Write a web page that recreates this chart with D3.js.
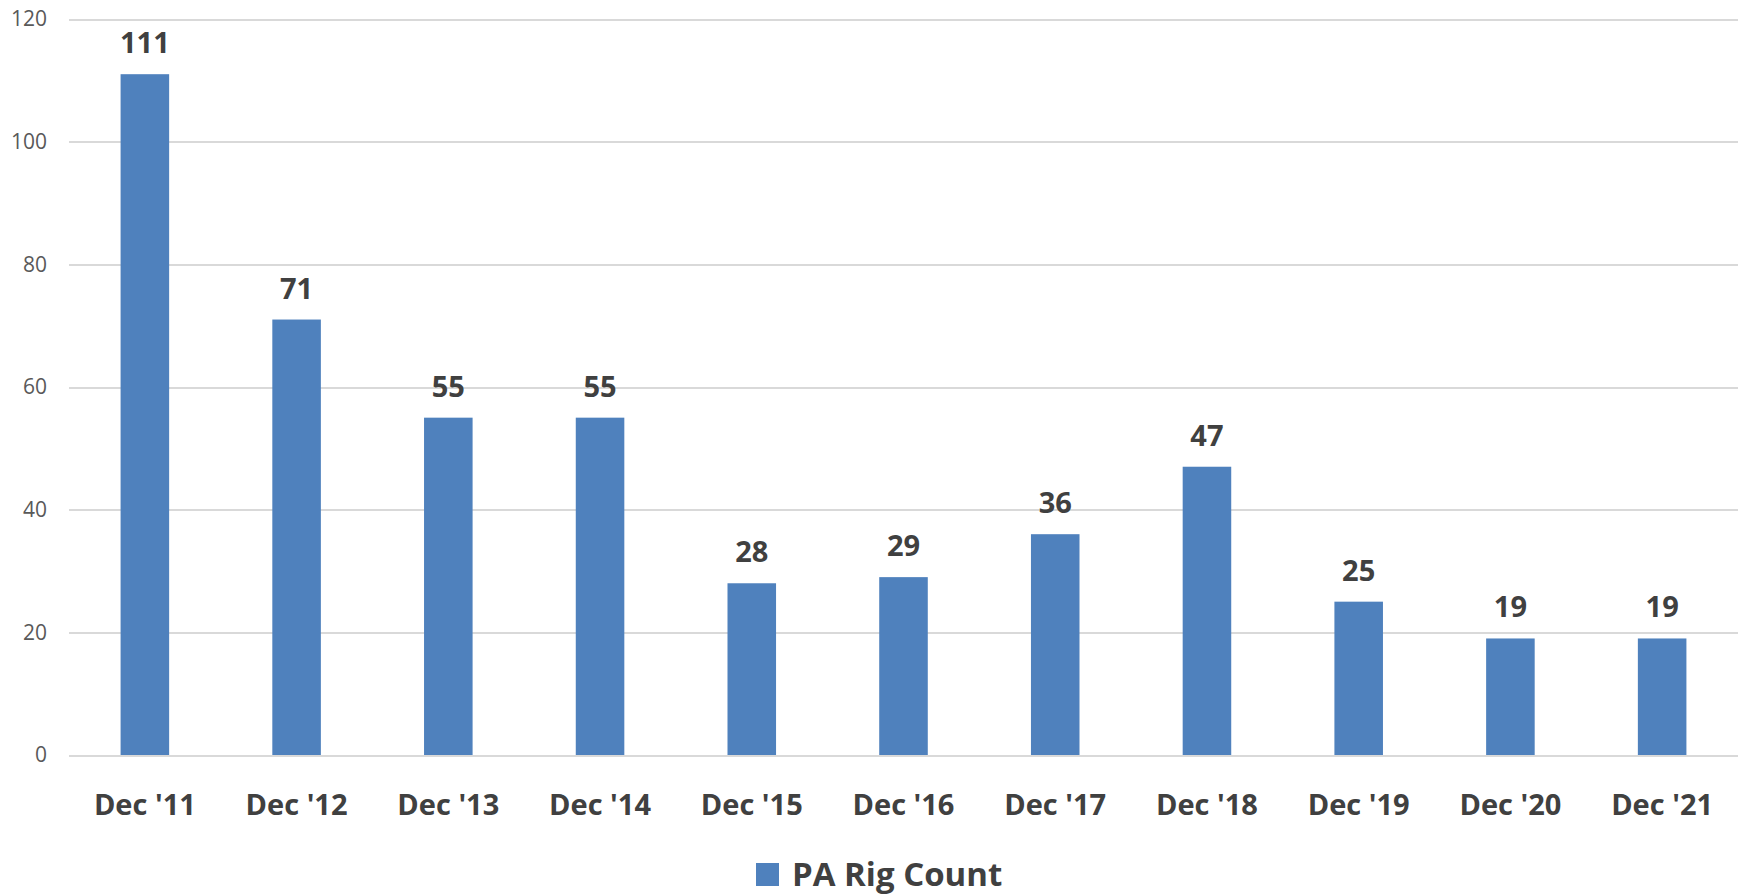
<!DOCTYPE html>
<meta charset="utf-8">
<style>
body { margin: 0; background: #fff; }
.grid line { stroke: #d9d9d9; stroke-width: 2; shape-rendering: crispEdges; }
.grid path { display: none; }
.yaxis text { font: 21px "Open Sans", sans-serif; fill: #595959; }
.yaxis path, .yaxis line { display: none; }
.xlab { font: bold 29px "Open Sans", sans-serif; fill: #404040; }
.val { font: bold 29px "Open Sans", sans-serif; fill: #404040; }
.legend text { font: bold 33px "Open Sans", sans-serif; fill: #404040; }
</style>
<body>
<script src="https://d3js.org/d3.v7.min.js"></script>
<script>

// data
var categories = ["Dec '11", "Dec '12", "Dec '13", "Dec '14", "Dec '15", "Dec '16", "Dec '17", "Dec '18", "Dec '19", "Dec '20", "Dec '21"];
var rigCount = [111, 71, 55, 55, 28, 29, 36, 47, 25, 19, 19];
var yTicks = [0, 20, 40, 60, 80, 100, 120];
var seriesName = "PA Rig Count";

var width = 1744, height = 895;
var plotLeft = 69, plotRight = 1738, plotTop = 19, plotBottom = 755;

var svg = d3.select("body").append("svg")
    .attr("width", width)
    .attr("height", height);

var x = d3.scaleBand().domain(categories).range([plotLeft, plotRight]);
var y = d3.scaleLinear().domain([0, 120]).range([plotBottom, plotTop]);
var barW = x.bandwidth() * 0.32;

// gridlines
svg.append("g")
    .attr("class", "grid")
    .attr("transform", "translate(" + plotLeft + ",0)")
    .call(d3.axisRight(y).tickValues(yTicks).tickSize(plotRight - plotLeft).tickFormat(""));

// y labels
svg.append("g")
    .attr("class", "yaxis")
    .attr("transform", "translate(47,0)")
    .call(d3.axisLeft(y).tickValues(yTicks).tickSize(0).tickPadding(0));

var data = categories.map(function(c, i) { return {cat: c, v: rigCount[i]}; });

svg.selectAll(".bar")
    .data(data)
  .enter().append("rect")
    .attr("class", "bar")
    .attr("x", function(d) { return x(d.cat) + (x.bandwidth() - barW) / 2; })
    .attr("y", function(d) { return y(d.v); })
    .attr("width", barW)
    .attr("height", function(d) { return y(0) - y(d.v); })
    .attr("fill", "#4f81bd");

svg.selectAll(".val")
    .data(data)
  .enter().append("text")
    .attr("class", "val")
    .attr("x", function(d) { return x(d.cat) + x.bandwidth() / 2; })
    .attr("y", function(d) { return y(d.v) - 21; })
    .attr("text-anchor", "middle")
    .text(function(d) { return d.v; });

svg.selectAll(".xlab")
    .data(categories)
  .enter().append("text")
    .attr("class", "xlab")
    .attr("x", function(d) { return x(d) + x.bandwidth() / 2; })
    .attr("y", 815)
    .attr("text-anchor", "middle")
    .text(function(d) { return d; });

// legend
var legend = svg.append("g").attr("class", "legend");
legend.append("rect")
    .attr("x", 756).attr("y", 863)
    .attr("width", 23).attr("height", 23)
    .attr("fill", "#4f81bd");
legend.append("text")
    .attr("x", 792).attr("y", 886)
    .text(seriesName);

</script>
